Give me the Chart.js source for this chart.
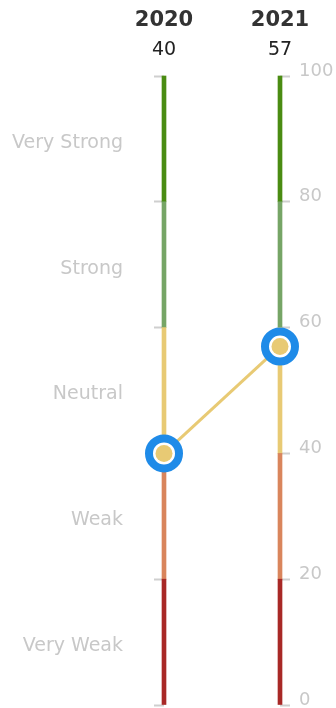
<!DOCTYPE html>
<html>
<head>
<meta charset="utf-8">
<script src="https://cdn.jsdelivr.net/npm/chart.js@4.4.1/dist/chart.umd.min.js"></script>
<style>
  html, body { margin: 0; padding: 0; background: #fff; }
  #wrap { width: 336px; height: 708px; }
</style>
</head>
<body>
<div id="wrap"><canvas id="chart"></canvas></div>
<script>
  // Years and their scores
  const years = ['2020', '2021'];
  const scores = [40, 57];

  // Rating bands, bottom to top
  const bandNames = ['Very Weak', 'Weak', 'Neutral', 'Strong', 'Very Strong'];
  const bandEdges = [0, 20, 40, 60, 80, 100];
  const bandColors = ['#a82826', '#d9855c', '#e8ca74', '#76a566', '#4a8c12'];

  const scaleTicks = [0, 20, 40, 60, 80, 100];

  const labelGrey = '#c8c8c8';
  const fontFamily = '"DejaVu Sans", sans-serif';

  // one floating bar per band, on each year
  const bandSets = bandNames.map((name, i) => ({
    type: 'bar',
    label: name,
    data: years.map(() => [bandEdges[i], bandEdges[i + 1]]),
    backgroundColor: bandColors[i],
    barThickness: 4,
    grouped: false,
    xAxisID: 'x',
    yAxisID: 'y',
    clip: false,
    order: 10
  }));

  // tick padding gets added to the vertical padding, drop it
  function fitSide(width) {
    return s => {
      s.width = width;
      s.paddingTop = 0;
      s.paddingBottom = 0;
    };
  }

  const ctx = document.getElementById('chart').getContext('2d');
  new Chart(ctx, {
    type: 'bar',
    data: {
      labels: years,
      datasets: [
        // yellow dot on top
        {
          type: 'line',
          label: 'dot',
          data: scores,
          showLine: false,
          pointRadius: 8.5,
          pointHoverRadius: 8.5,
          pointBackgroundColor: '#e8ca74',
          pointBorderWidth: 0,
          xAxisID: 'x',
          yAxisID: 'y',
          clip: false,
          order: 1
        },
        // connecting line with the blue rings
        {
          type: 'line',
          label: 'score',
          data: scores,
          borderColor: '#e8ca74',
          borderWidth: 3,
          pointRadius: 15,
          pointHoverRadius: 15,
          pointBorderWidth: 8,
          pointBorderColor: '#1f8be8',
          pointBackgroundColor: '#ffffff',
          xAxisID: 'x',
          yAxisID: 'y',
          clip: false,
          order: 2
        },
        ...bandSets
      ]
    },
    options: {
      responsive: true,
      maintainAspectRatio: false,
      animation: false,
      layout: { autoPadding: false, padding: { top: 0, bottom: 3, left: 0, right: 0 } },
      plugins: {
        legend: { display: false },
        tooltip: { enabled: false }
      },
      scales: {
        x: {
          type: 'category',
          position: 'top',
          weight: 2,
          offset: false,
          grid: { display: false, drawTicks: false },
          border: { display: false },
          ticks: {
            maxRotation: 0,
            padding: 3,
            color: '#333',
            font: { family: fontFamily, size: 21, weight: 'bold' }
          },
          afterFit: s => { s.height = 36; }
        },
        x2: {
          type: 'category',
          position: 'top',
          weight: 1,
          offset: false,
          labels: scores.map(String),
          grid: { display: false, drawTicks: false },
          border: { display: false },
          ticks: {
            maxRotation: 0,
            padding: 15,
            color: '#222',
            font: { family: fontFamily, size: 19 }
          },
          afterFit: s => { s.height = 40; }
        },
        y: {
          position: 'left',
          min: 0,
          max: 100,
          border: { display: false },
          grid: {
            drawOnChartArea: false,
            drawTicks: true,
            tickLength: 10,
            tickWidth: 2,
            tickColor: c => (c.tick && c.tick.value % 20 === 0) ? '#cfcfcf' : 'rgba(0,0,0,0)'
          },
          ticks: {
            stepSize: 10,
            padding: 31,
            labelOffset: 4,
            color: labelGrey,
            font: { family: fontFamily, size: 19 },
            callback: v => (v % 20 === 10) ? bandNames[(v - 10) / 20] : ''
          },
          afterFit: fitSide(164)
        },
        y2: {
          position: 'right',
          min: 0,
          max: 100,
          border: { display: false },
          afterBuildTicks: s => { s.ticks = scaleTicks.map(v => ({ value: v })); },
          grid: {
            drawOnChartArea: false,
            drawTicks: true,
            tickLength: 10,
            tickWidth: 2,
            tickColor: '#cfcfcf'
          },
          ticks: {
            padding: 9,
            labelOffset: -5,
            color: labelGrey,
            font: { family: fontFamily, size: 18 }
          },
          afterFit: fitSide(56)
        }
      }
    }
  });
</script>
</body>
</html>
